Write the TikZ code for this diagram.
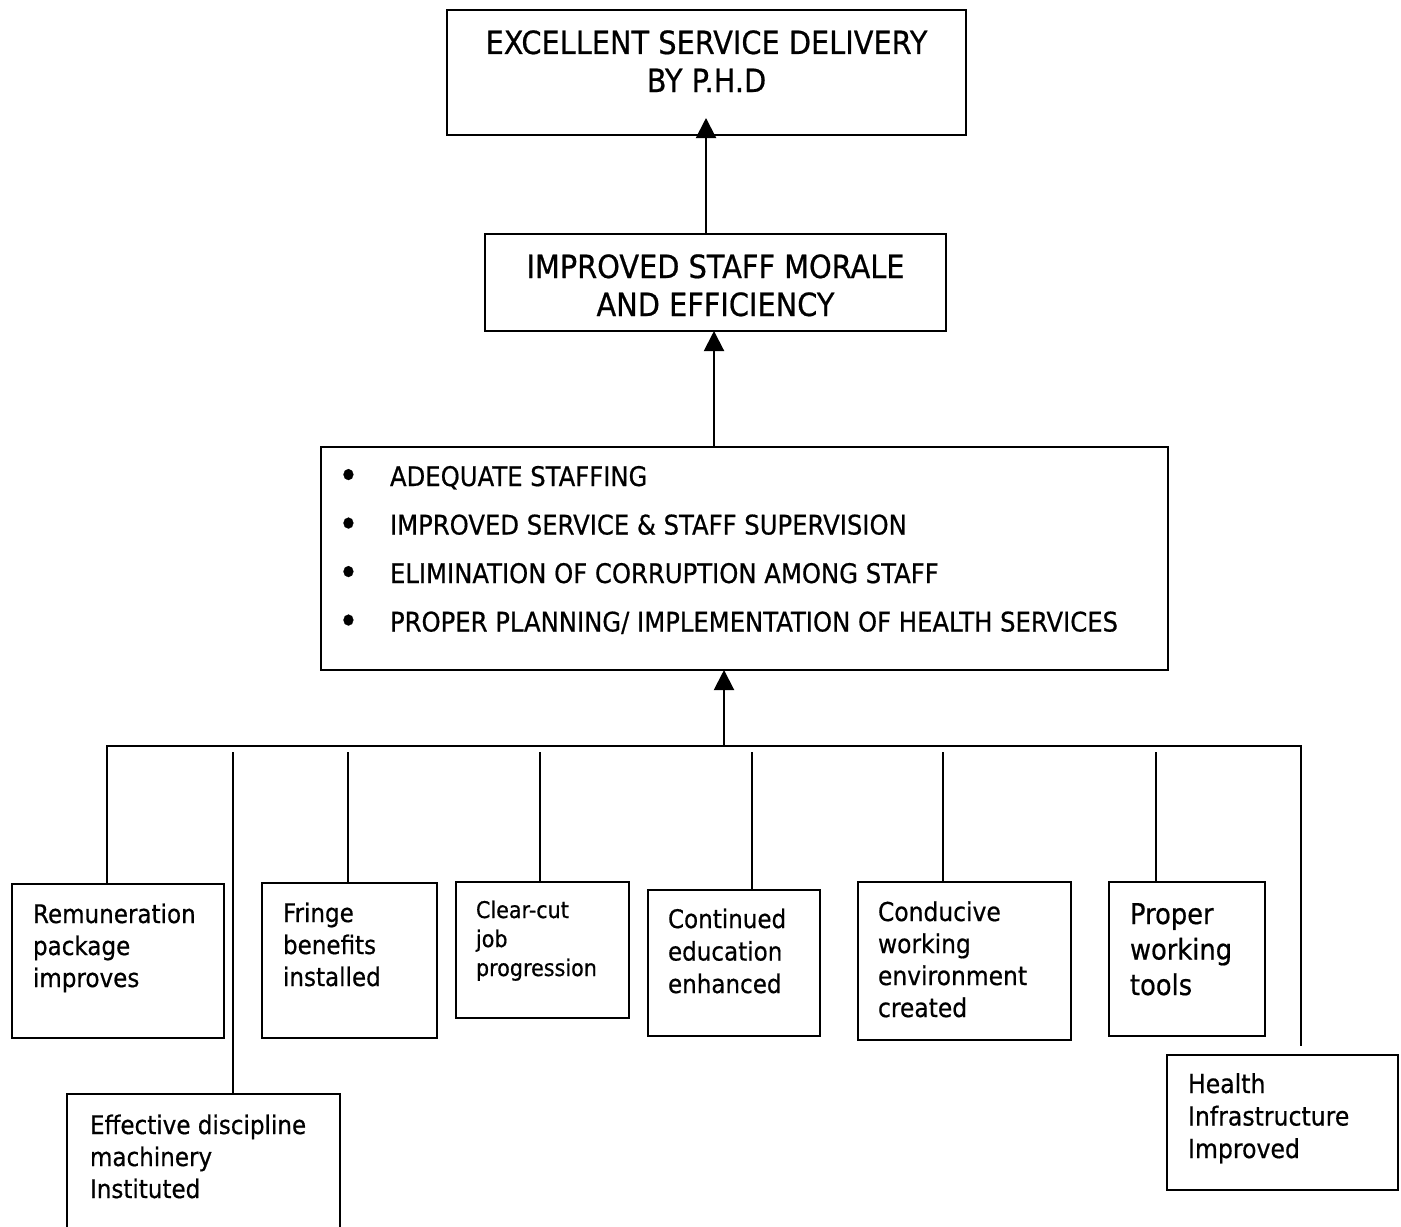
\documentclass[tikz,border=0pt]{standalone}
\usepackage{fontspec}
\newfontfamily\boxfont{DejaVu Sans}[FakeStretch=0.9,FakeBold=0.6]
\usetikzlibrary{arrows.meta}
% left-aligned box content: width, height, left pad, first baseline, font, text
\newcommand{\bxl}[6]{\parbox[t][#2pt][t]{#1pt}{#5\raggedright\leftskip=#3pt\rule{0pt}{#4pt}#6}}
% centred box content: width, height, first baseline, font, text
\newcommand{\bxc}[5]{\parbox[t][#2pt][t]{#1pt}{#4\centering\rule{0pt}{#3pt}#5}}
\newcommand{\bul}{\makebox[25pt][l]{\hspace*{-0.8pt}\raisebox{-1.3pt}{\scalebox{1.4}{•}}}}
\begin{document}
\begin{tikzpicture}[x=0.5pt,y=-0.5pt,
  box/.style={draw, line width=1pt, inner sep=0pt, anchor=north west, font=\boxfont},
  conn/.style={line width=1pt},
  arr/.style={line width=1pt, -{Triangle[length=10pt,width=10pt]}}]
\useasboundingbox (0,0) rectangle (1401,1226);
\fill[white] (0,0) rectangle (1401,1226);

\node[box] (phd) at (446,9) {\bxc{259.5}{62.5}{22}{\fontsize{16}{19}\selectfont}{\mbox{EXCELLENT SERVICE DELIVERY}\\BY P.H.D}};
\node[box] (morale) at (484,233) {\bxc{230.5}{48.5}{22}{\fontsize{16}{19}\selectfont}{\mbox{IMPROVED STAFF MORALE}\\\mbox{AND EFFICIENCY}}};
\node[box] (factors) at (320,446) {\bxl{423.5}{111.5}{9.5}{19.5}{\fontsize{13.5}{24.25}\selectfont}{\mbox{\bul ADEQUATE STAFFING}\\\mbox{\bul IMPROVED SERVICE \& STAFF SUPERVISION}\\\mbox{\bul ELIMINATION OF CORRUPTION AMONG STAFF}\\\mbox{\bul PROPER PLANNING/ IMPLEMENTATION OF HEALTH SERVICES}}};

\node[box] (b1) at (11,883) {\bxl{106}{77}{10.5}{19.5}{\fontsize{12.8}{16}\selectfont}{Remuneration\\package\\improves}};
\node[box] (b2) at (261,882) {\bxl{87.5}{77.5}{10.5}{19.5}{\fontsize{12.8}{16}\selectfont}{Fringe\\benefits\\installed}};
\node[box] (b3) at (455,881) {\bxl{86.5}{68}{10}{18}{\fontsize{11.5}{14.5}\selectfont}{Clear-cut\\job\\progression}};
\node[box] (b4) at (647,889) {\bxl{86}{73}{10}{19}{\fontsize{12.8}{16.25}\selectfont}{Continued\\education\\enhanced}};
\node[box] (b5) at (857,881) {\bxl{106.5}{79}{10}{19.5}{\fontsize{13}{16}\selectfont}{Conducive\\working\\environment\\created}};
\node[box] (b6) at (1108,881) {\bxl{78}{77}{10.5}{21}{\fontsize{14.3}{17.75}\selectfont}{Proper\\working\\tools}};
\node[box] (b7) at (1166,1054) {\bxl{115.5}{67.5}{10.5}{19}{\fontsize{13.1}{16.25}\selectfont}{Health\\Infrastructure\\Improved}};
\node[box, draw=none] (b8) at (67,1094) {\bxl{135.5}{66}{11}{19.5}{\fontsize{12.8}{16}\selectfont}{\mbox{Effective discipline}\\machinery\\Instituted}};
\draw[line width=1pt] (b8.south west) -- (b8.north west) -- (b8.north east) -- (b8.south east);

% arrows
\coordinate (tipA) at (706,118);
\draw[arr] (tipA |- morale.north) -- (tipA);
\coordinate (tipB) at (714,331);
\draw[arr] (tipB |- factors.north) -- (tipB);
\coordinate (busC) at (724,746);
\coordinate (tipC) at (724,670);
\draw[arr] (busC) -- (tipC);

% bus
\coordinate (busL) at (107,746);
\coordinate (busR) at (1301,746);
\coordinate (endR) at (1301,1046);
\draw[conn] (busL |- b1.north) -- (busL) -- (busR) -- (endR);
\foreach \n/\x in {b8/233, b2/348, b3/540, b4/752, b5/943, b6/1156} {
  \coordinate (d\n) at (\x,752);
  \draw[conn] (d\n) -- (d\n |- \n.north);
}
\end{tikzpicture}
\end{document}
